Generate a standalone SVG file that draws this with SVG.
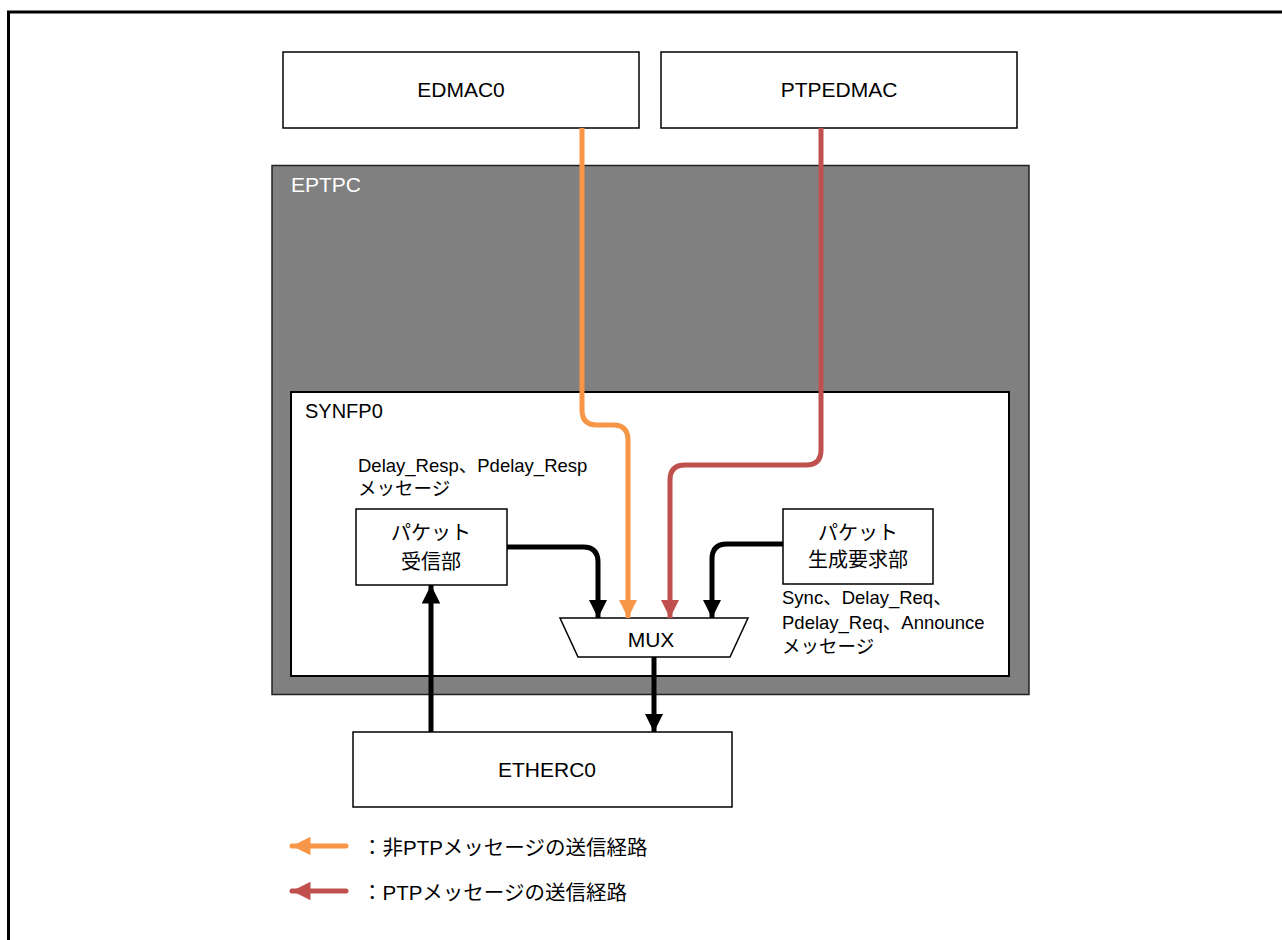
<svg xmlns="http://www.w3.org/2000/svg" width="1282" height="940" viewBox="0 0 1282 940">
<style>
text{font-family:"Liberation Sans","Noto Sans CJK JP",sans-serif;fill:#000}
.box{fill:#fff;stroke:#000;stroke-width:1.5}
.lbl{font-size:21px;text-anchor:middle}
.jp{font-size:20px;text-anchor:middle}
.sm{font-size:18.5px}
.lg{font-size:20.5px}
.blk{fill:none;stroke:#000;stroke-width:5;stroke-linejoin:round}
.org{fill:none;stroke:#F79646;stroke-width:5}
.red{fill:none;stroke:#C0504D;stroke-width:5}
</style>
<defs>
<marker id="ab" viewBox="0 0 10 10" refX="10" refY="5" markerWidth="3.7" markerHeight="3.7" orient="auto" markerUnits="strokeWidth"><path d="M0,0L10,5L0,10z" fill="#000"/></marker>
<marker id="ao" viewBox="0 0 10 10" refX="10" refY="5" markerWidth="3.7" markerHeight="3.7" orient="auto" markerUnits="strokeWidth"><path d="M0,0L10,5L0,10z" fill="#F79646"/></marker>
<marker id="ar" viewBox="0 0 10 10" refX="10" refY="5" markerWidth="3.7" markerHeight="3.7" orient="auto" markerUnits="strokeWidth"><path d="M0,0L10,5L0,10z" fill="#C0504D"/></marker>
</defs>
<rect x="8.5" y="12" width="1290" height="940" fill="none" stroke="#000" stroke-width="3"/>
<g id="edmac0"><rect class="box" x="283" y="52" width="356" height="76"/><text class="lbl" x="461" y="97">EDMAC0</text></g>
<g id="ptpedmac"><rect class="box" x="661" y="52" width="356" height="76"/><text class="lbl" x="839" y="97">PTPEDMAC</text></g>
<g id="eptpc"><rect x="272" y="165.5" width="757" height="529" fill="#808080" stroke="#222" stroke-width="1.5"/><text x="291" y="192" style="font-size:21px;fill:#fff">EPTPC</text></g>
<g id="synfp0"><rect x="291" y="392" width="718" height="284" fill="#fff" stroke="#000" stroke-width="2"/><text x="305" y="418" style="font-size:20px">SYNFP0</text>
<text class="sm" x="358" y="472">Delay_Resp、Pdelay_Resp</text><text class="sm" x="358" y="495">メッセージ</text>
<text class="sm" x="782" y="604">Sync、Delay_Req、</text><text class="sm" x="782" y="629">Pdelay_Req、Announce</text><text class="sm" x="782" y="653">メッセージ</text></g>
<g id="rx"><rect class="box" x="356" y="509" width="151" height="76"/><text class="jp" x="431" y="540">パケット</text><text class="jp" x="431" y="569">受信部</text></g>
<g id="gen"><rect class="box" x="783" y="509" width="150" height="75"/><text class="jp" x="858" y="540">パケット</text><text class="jp" x="858" y="567">生成要求部</text></g>
<g id="mux"><path d="M560,618L748,618L730,657L578,657z" fill="#fff" stroke="#000" stroke-width="1.5"/><text class="lbl" x="651" y="647">MUX</text></g>
<g id="etherc0"><rect class="box" x="353" y="732" width="379" height="75"/><text class="lbl" x="547" y="777">ETHERC0</text></g>
<g id="connectors">
<path class="org" d="M582,128V410Q582,425 597,425H613Q628,425 628,440V618" marker-end="url(#ao)"/>
<path class="red" d="M821,128V450Q821,465 806,465H685Q670,465 670,480V618" marker-end="url(#ar)"/>
<path class="blk" d="M507,547H583Q598,547 598,562V618" marker-end="url(#ab)"/>
<path class="blk" d="M783,544H727Q712,544 712,559V618" marker-end="url(#ab)"/>
<path class="blk" d="M654,657V732" marker-end="url(#ab)"/>
<path class="blk" d="M431,732V585" marker-end="url(#ab)"/>
</g>
<g id="legend">
<path class="org" d="M346,846H292" stroke-linecap="round" marker-end="url(#ao)"/>
<text class="lg" x="362" y="855">：非PTPメッセージの送信経路</text>
<path class="red" d="M346,891H292" stroke-linecap="round" marker-end="url(#ar)"/>
<text class="lg" x="362" y="900">：PTPメッセージの送信経路</text>
</g>
</svg>
